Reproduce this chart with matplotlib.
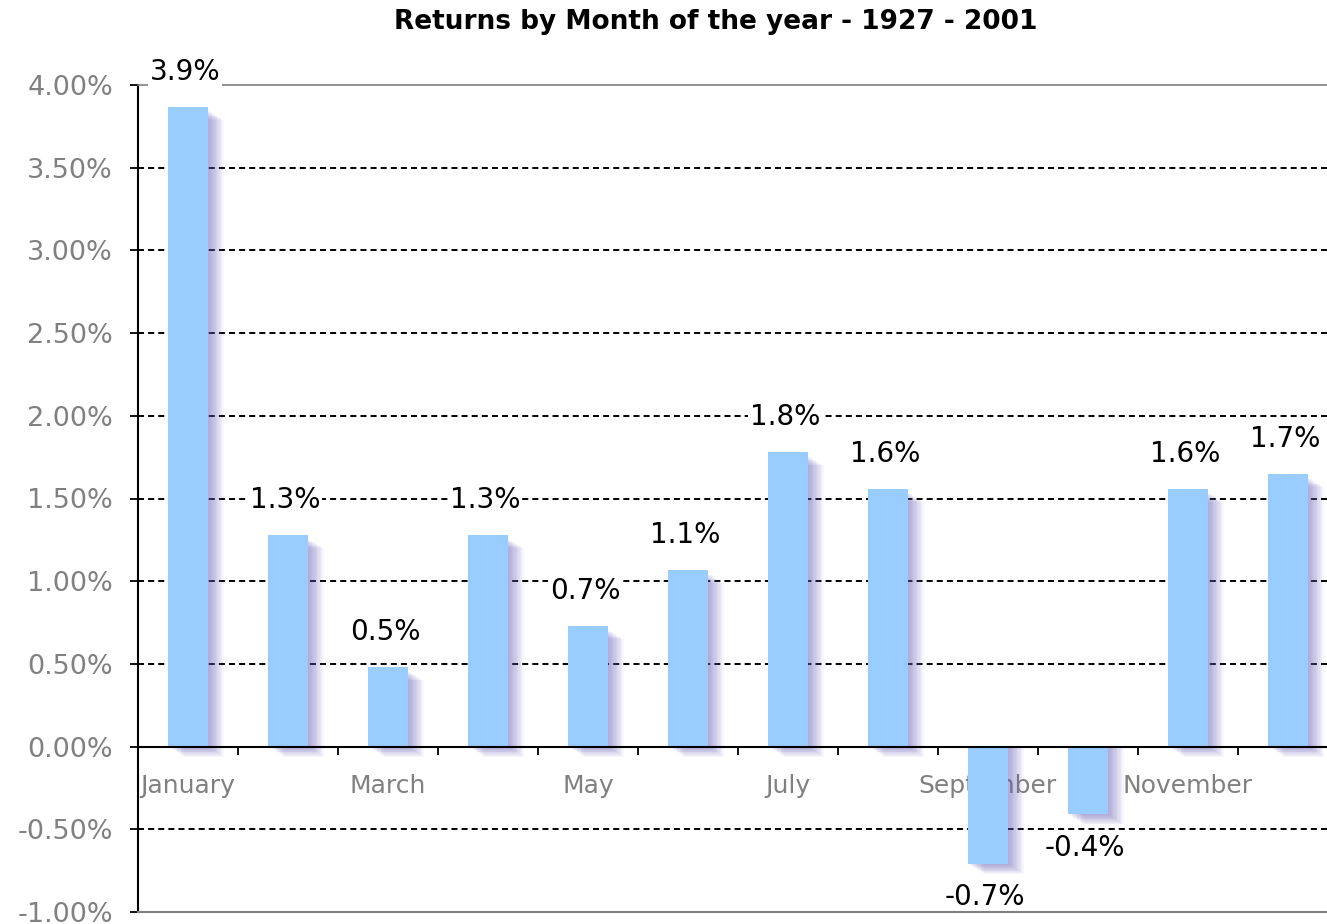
import matplotlib
matplotlib.use("Agg")
import matplotlib.pyplot as plt
from matplotlib.ticker import FuncFormatter, FixedLocator

# data
months = ["January", "February", "March", "April", "May", "June", "July",
          "August", "September", "October", "November", "December"]
returns = [3.87, 1.28, 0.48, 1.28, 0.73, 1.07, 1.78, 1.56, -0.71, -0.41, 1.56, 1.65]
labels = ["3.9%", "1.3%", "0.5%", "1.3%", "0.7%", "1.1%", "1.8%", "1.6%",
          "-0.7%", "-0.4%", "1.6%", "1.7%"]
yticks = [-1.0, -0.5, 0.0, 0.5, 1.0, 1.5, 2.0, 2.5, 3.0, 3.5, 4.0]

bar_color = "#99ccff"
shadow_color = "#6a5fb8"
gray = "#808080"

fig = plt.figure(figsize=(13.27, 9.24), dpi=100)
# axes run slightly past the right edge like the original screenshot
ax = fig.add_axes([138 / 1327, 12 / 924, 1200 / 1327, 827 / 924])

x = [i + 0.5 for i in range(len(months))]

# dashed grid lines (not on the border or the zero line)
for yv in yticks:
    if yv in (-1.0, 0.0, 4.0):
        continue
    ax.axhline(yv, color="black", lw=1.4, ls=(0, (3.1, 2.1)), zorder=1)

# soft blurred shadow behind the bars
for k in range(1, 13):
    dx = 0.013 * k
    dy = 0.005 * k
    for xi, v in zip(x, returns):
        if v >= 0:
            ax.bar(xi + dx, v - 0.02, width=0.4, bottom=-dy, color=shadow_color,
                   alpha=0.055, lw=0, zorder=2)
        else:
            ax.bar(xi + dx, v - dy, width=0.4, color=shadow_color,
                   alpha=0.055, lw=0, zorder=2)

ax.bar(x, returns, width=0.4, color=bar_color, lw=0, zorder=3)

for xi, v, lab in zip(x, returns, labels):
    off = 25 if v >= 0 else -24
    ax.annotate(lab, (xi - 0.03, v), xytext=(0, off), textcoords="offset points",
                ha="center", va="center", fontsize=20, color="black", zorder=5,
                bbox=dict(boxstyle="square,pad=0.05", fc="white", ec="none"))

ax.set_xlim(0, 12)
ax.set_ylim(-1.0, 4.0)

ax.set_yticks(yticks)
ax.yaxis.set_major_formatter(FuncFormatter(lambda v, p: "%.2f%%" % v))
ax.tick_params(axis="y", direction="out", length=6, width=1.3, color="black",
               labelsize=19.5, labelcolor=gray, pad=12)

ax.xaxis.set_major_locator(FixedLocator(list(range(13))))
ax.xaxis.set_major_formatter(FuncFormatter(lambda v, p: ""))
ax.xaxis.set_minor_locator(FixedLocator(x[::2]))
ax.set_xticklabels(months[::2], minor=True)
ax.tick_params(axis="x", which="major", direction="out", length=6, width=1.3,
               color="black")
ax.tick_params(axis="x", which="minor", length=0, labelsize=18,
               labelcolor=gray, pad=20)

ax.spines["bottom"].set_position(("data", 0))
ax.spines["bottom"].set_color("black")
ax.spines["bottom"].set_linewidth(1.5)
ax.spines["bottom"].set_zorder(4)
ax.spines["left"].set_color("black")
ax.spines["left"].set_linewidth(1.5)
ax.spines["top"].set_color(gray)
ax.spines["top"].set_linewidth(1.2)
ax.spines["right"].set_visible(False)
ax.axhline(-1.0, color=gray, lw=1.5, zorder=6, clip_on=False)

fig.text(0.539, 1 - 22 / 924, "Returns by Month of the year - 1927 - 2001",
         ha="center", va="center", fontsize=19, fontweight="bold")

fig.savefig("out.png", dpi=100)
